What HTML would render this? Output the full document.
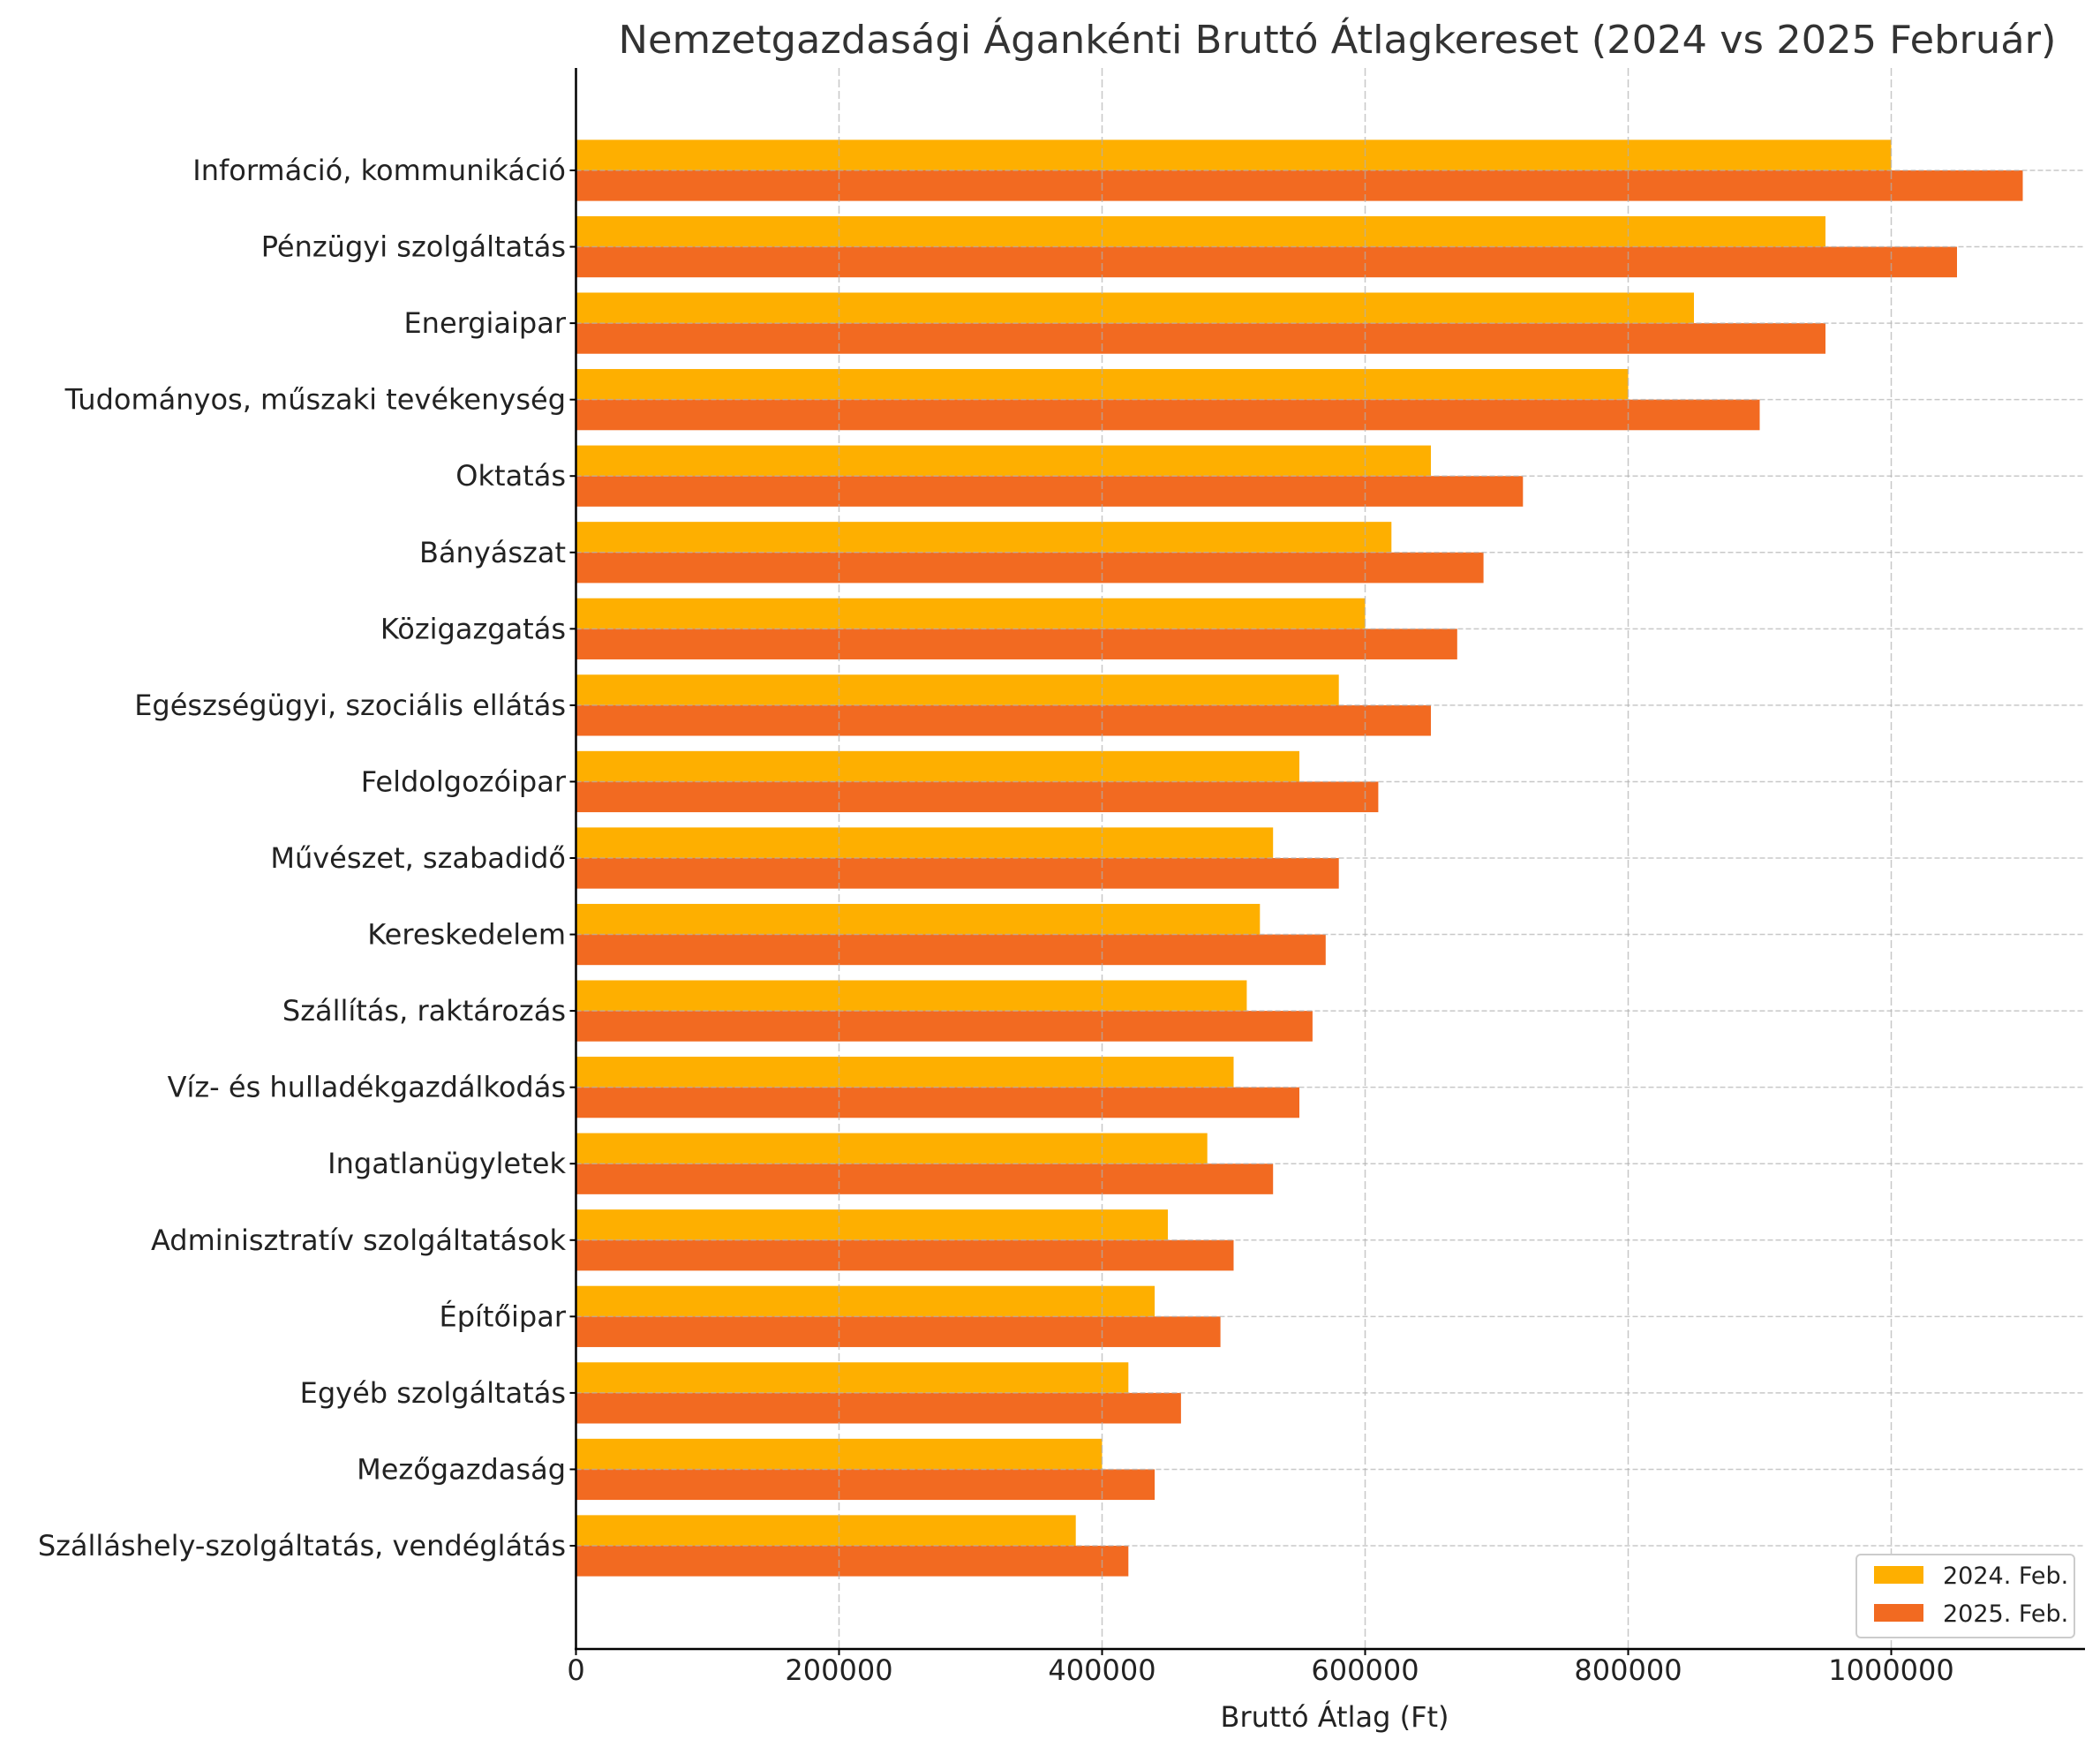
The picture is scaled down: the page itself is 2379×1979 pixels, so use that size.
<!DOCTYPE html>
<html><head><meta charset="utf-8"><style>
html,body{margin:0;padding:0;background:#fff;}
svg{display:block;font-family:"DejaVu Sans","Liberation Sans",sans-serif;}
</style></head><body>
<svg id="chart" width="2379" height="1979" viewBox="0 0 2379 1979">
<rect width="2379" height="1979" fill="#fff"/>
<text x="1515" y="60" text-anchor="middle" font-size="44" fill="#333" textLength="1629" lengthAdjust="spacingAndGlyphs">Nemzetgazdasági Áganként​i Bruttó Átlagkereset (2024 vs 2025 Február)</text>
<g id="bars"></g>
<g id="grid"></g>
<g id="yaxis"></g>
<g id="xaxis"></g>
<line x1="652.5" y1="77" x2="652.5" y2="1868" stroke="#000" stroke-width="2.5"/>
<line x1="651" y1="1868" x2="2362" y2="1868" stroke="#000" stroke-width="2.5"/>
<text x="1512" y="1956" text-anchor="middle" font-size="32" fill="#222">Bruttó Átlag (Ft)</text>
<g>
<rect x="2103" y="1761" width="247" height="94" rx="5" fill="#fff" stroke="#ccc" stroke-width="2"/>
<g>
<rect x="2123" y="1774" width="56" height="20" fill="#FEAF00"/>
<text x="2201" y="1794" font-size="27" fill="#222">2024. Feb.</text>
</g>
<g>
<rect x="2123" y="1817" width="56" height="20" fill="#F26A21"/>
<text x="2201" y="1837" font-size="27" fill="#222">2025. Feb.</text>
</g>
</g>
</svg>
<script>
const categories = ["Információ, kommunikáció","Pénzügyi szolgáltatás","Energiaipar","Tudományos, műszaki tevékenység","Oktatás","Bányászat","Közigazgatás","Egészségügyi, szociális ellátás","Feldolgozóipar","Művészet, szabadidő","Kereskedelem","Szállítás, raktározás","Víz- és hulladékgazdálkodás","Ingatlanügyletek","Adminisztratív szolgáltatások","Építőipar","Egyéb szolgáltatás","Mezőgazdaság","Szálláshely-szolgáltatás, vendéglátás"];
const values2024 = [1000000,950000,850000,800000,650000,620000,600000,580000,550000,530000,520000,510000,500000,480000,450000,440000,420000,400000,380000];
const values2025 = [1100000,1050000,950000,900000,720000,690000,670000,650000,610000,580000,570000,560000,550000,530000,500000,490000,460000,440000,420000];
const xTicks = [0,200000,400000,600000,800000,1000000];
const xTickLabels = ["0","200000","400000","600000","800000","1000000"];

const NS="http://www.w3.org/2000/svg";
const X0=652.5, PXPER=298/200000;
function xScale(v){return X0+v*PXPER;}
const Y0=193, STEP=(1751-193)/18, BH=STEP*0.4;
function yScale(i){return Y0+i*STEP;}
function mk(tag,attrs,parent){const e=document.createElementNS(NS,tag);for(const k in attrs)e.setAttribute(k,attrs[k]);parent.appendChild(e);return e;}
const gb=document.getElementById('bars'),gg=document.getElementById('grid'),gy=document.getElementById('yaxis'),gx=document.getElementById('xaxis');
categories.forEach((c,i)=>{
  const yc=yScale(i);
  const b1=mk('rect',{x:X0,y:yc-BH,width:xScale(values2024[i])-X0,height:BH,fill:'#FEAF00'},gb);
  
  
  const b2=mk('rect',{x:X0,y:yc,width:xScale(values2025[i])-X0,height:BH,fill:'#F26A21'},gb);
  
  
  const gl=mk('line',{x1:X0,x2:2362,y1:yc,y2:yc,stroke:'#b0b0b0','stroke-width':1.5,'stroke-dasharray':'6 3','stroke-opacity':0.7},gg);
  
  
  const tk=mk('line',{x1:X0-7,x2:X0,y1:yc,y2:yc,stroke:'#000','stroke-width':2},gy);
  
  
  const t=mk('text',{x:641,y:yc+11,'text-anchor':'end','font-size':32,fill:'#222'},gy);
  t.textContent=c;
  
  
});
xTicks.forEach((v,i)=>{
  const x=xScale(v);
  if(v>0){const gl=mk('line',{x1:x,x2:x,y1:77,y2:1868,stroke:'#b0b0b0','stroke-width':1.5,'stroke-dasharray':'9 4','stroke-opacity':0.7},gg);
  
  }
  const tk=mk('line',{x1:x,x2:x,y1:1868,y2:1875,stroke:'#000','stroke-width':2},gx);
  
  
  const t=mk('text',{x:x,y:1903,'text-anchor':'middle','font-size':32,fill:'#222'},gx);
  t.textContent=xTickLabels[i];
  
  
});
</script>
</body></html>
